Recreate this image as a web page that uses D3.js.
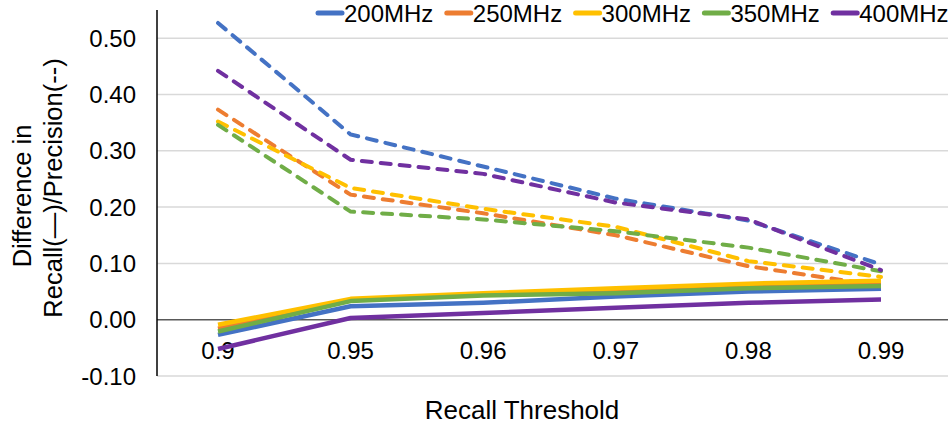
<!DOCTYPE html>
<html>
<head>
<meta charset="utf-8">
<script src="https://cdn.jsdelivr.net/npm/d3@7"></script>
<style>
  body { margin: 0; background: #fff; }
  text { font-family: "Liberation Sans", Arial, sans-serif; fill: #000; }
</style>
</head>
<body>
<svg width="950" height="425"></svg>
<script>
var thresholds = ["0.9", "0.95", "0.96", "0.97", "0.98", "0.99"];
var freqs = ["200MHz", "250MHz", "300MHz", "350MHz", "400MHz"];
var colors = ["#4472c4", "#ed7d31", "#ffc000", "#70ad47", "#7030a0"];

// recall difference (solid lines)
var recall200 = [-0.027, 0.024, 0.030, 0.041, 0.050, 0.055];
var recall250 = [-0.016, 0.035, 0.045, 0.053, 0.061, 0.065];
var recall300 = [-0.009, 0.037, 0.047, 0.056, 0.064, 0.069];
var recall350 = [-0.021, 0.033, 0.043, 0.047, 0.056, 0.060];
var recall400 = [-0.052, 0.003, 0.012, 0.021, 0.030, 0.036];

// precision difference (dashed lines)
var prec200 = [0.527, 0.329, 0.272, 0.215, 0.176, 0.098];
var prec250 = [0.373, 0.222, 0.189, 0.150, 0.095, 0.060];
var prec300 = [0.352, 0.234, 0.197, 0.165, 0.104, 0.076];
var prec350 = [0.346, 0.192, 0.178, 0.157, 0.128, 0.086];
var prec400 = [0.442, 0.284, 0.259, 0.208, 0.178, 0.088];

var yTicks = [-0.1, 0, 0.1, 0.2, 0.3, 0.4, 0.5];

var recall = [recall200, recall250, recall300, recall350, recall400];
var prec = [prec200, prec250, prec300, prec350, prec400];

var svg = d3.select("svg");
var plotLeft = 157, plotRight = 948, plotTop = 10, plotBottom = 376;

var x = d3.scalePoint()
    .domain(thresholds)
    .range([218, 881]);

var y = d3.scaleLinear()
    .domain([-0.1, 0.55])
    .range([plotBottom, plotTop]);

// hyphen minus like the original, not d3's unicode minus
var fmt = d3.formatLocale({decimal: ".", thousands: ",", grouping: [3], currency: ["", ""], minus: "-"}).format(".2f");

// gridlines
svg.append("g")
  .selectAll("line")
  .data(yTicks.filter(function(d) { return d !== 0; }))
  .enter().append("line")
    .attr("x1", plotLeft)
    .attr("x2", plotRight)
    .attr("y1", function(d) { return y(d); })
    .attr("y2", function(d) { return y(d); })
    .attr("stroke", "#d9d9d9")
    .attr("stroke-width", 1.5);

// y tick labels
svg.append("g")
  .selectAll("text")
  .data(yTicks)
  .enter().append("text")
    .attr("x", 136)
    .attr("y", function(d) { return y(d); })
    .attr("text-anchor", "end")
    .attr("dominant-baseline", "central")
    .style("font-size", "24px")
    .text(function(d) { return fmt(d); });

// zero line
svg.append("line")
    .attr("x1", plotLeft)
    .attr("x2", plotRight)
    .attr("y1", y(0))
    .attr("y2", y(0))
    .attr("stroke", "#595959")
    .attr("stroke-width", 1.5);

// left axis
svg.append("line")
    .attr("x1", plotLeft)
    .attr("x2", plotLeft)
    .attr("y1", plotTop)
    .attr("y2", plotBottom)
    .attr("stroke", "#000")
    .attr("stroke-width", 1.5);

// x tick labels (sit under the zero line)
svg.append("g")
  .selectAll("text")
  .data(thresholds)
  .enter().append("text")
    .attr("x", function(d) { return x(d); })
    .attr("y", 350)
    .attr("text-anchor", "middle")
    .attr("dominant-baseline", "central")
    .style("font-size", "24px")
    .text(function(d) { return d; });

var line = d3.line()
    .x(function(d, i) { return x(thresholds[i]); })
    .y(function(d) { return y(d); });

// dashed precision lines
svg.append("g")
  .selectAll("path")
  .data(prec)
  .enter().append("path")
    .attr("d", line)
    .attr("fill", "none")
    .attr("stroke", function(d, i) { return colors[i]; })
    .attr("stroke-width", 4)
    .attr("stroke-dasharray", "10,9")
    .attr("stroke-linecap", "round");

// solid recall lines
svg.append("g")
  .selectAll("path")
  .data(recall)
  .enter().append("path")
    .attr("d", line)
    .attr("fill", "none")
    .attr("stroke", function(d, i) { return colors[i]; })
    .attr("stroke-width", 4.5)
    .attr("stroke-linejoin", "round");

// legend
var legend = svg.append("g")
  .selectAll("g")
  .data(freqs)
  .enter().append("g")
    .attr("transform", function(d, i) { return "translate(" + (318 + i * 128.8) + ",13)"; });

legend.append("line")
    .attr("x1", 0)
    .attr("x2", 24)
    .attr("stroke", function(d, i) { return colors[i]; })
    .attr("stroke-width", 5)
    .attr("stroke-linecap", "round");

legend.append("text")
    .attr("x", 26)
    .attr("dominant-baseline", "central")
    .style("font-size", "24px")
    .text(function(d) { return d; });

// axis titles
svg.append("text")
    .attr("x", 522)
    .attr("y", 410)
    .attr("text-anchor", "middle")
    .attr("dominant-baseline", "central")
    .style("font-size", "26px")
    .text("Recall Threshold");

svg.append("text")
    .attr("transform", "translate(22,196) rotate(-90)")
    .attr("text-anchor", "middle")
    .attr("dominant-baseline", "central")
    .style("font-size", "25.5px")
    .text("Difference in");

svg.append("text")
    .attr("transform", "translate(53,188) rotate(-90)")
    .attr("text-anchor", "middle")
    .attr("dominant-baseline", "central")
    .style("font-size", "25.5px")
    .text("Recall(\u2014)/Precision(--)");
</script>
</body>
</html>
